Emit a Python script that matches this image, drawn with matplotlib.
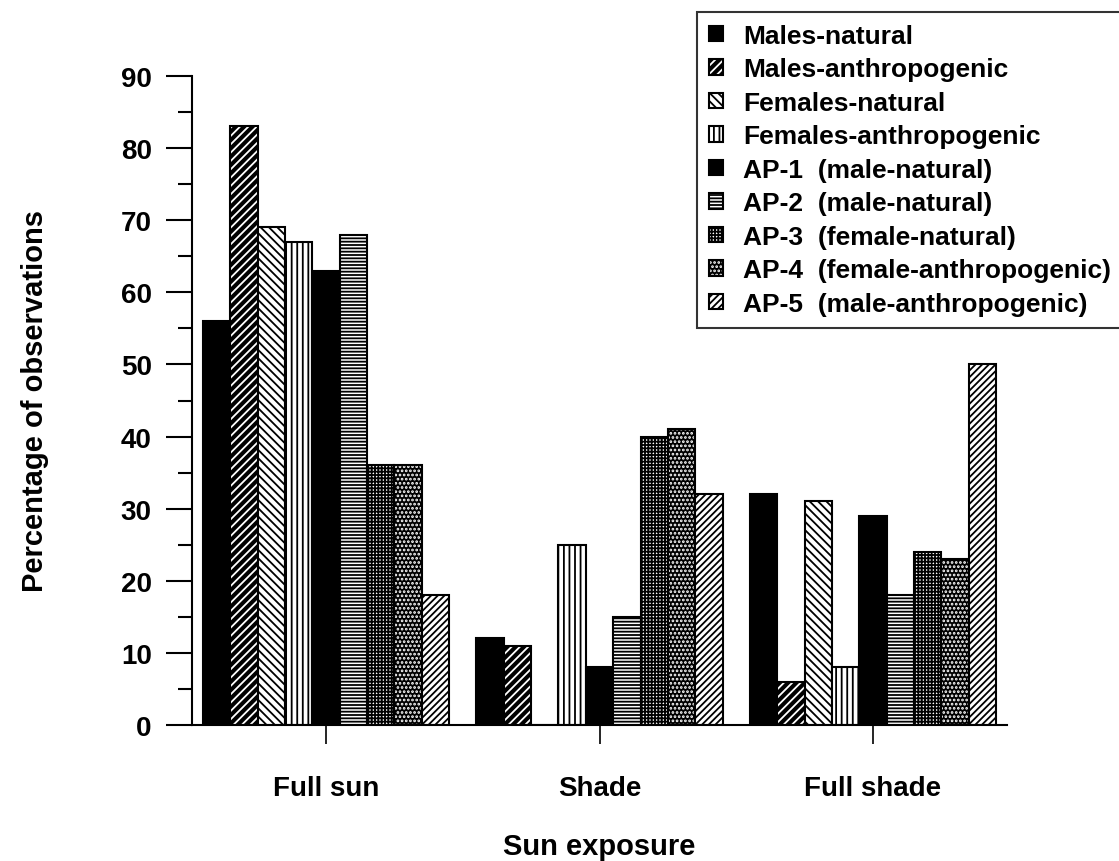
import matplotlib
matplotlib.use("Agg")
import matplotlib.pyplot as plt
import numpy as np

plt.rcParams['font.family'] = ['Liberation Sans', 'DejaVu Sans']
plt.rcParams['font.weight'] = 'bold'
plt.rcParams['hatch.linewidth'] = 1.3

# sun exposure categories
categories = ['Full sun', 'Shade', 'Full shade']

# legend labels, one per series
series = ['Males-natural', 'Males-anthropogenic', 'Females-natural',
          'Females-anthropogenic', 'AP-1  (male-natural)', 'AP-2  (male-natural)',
          'AP-3  (female-natural)', 'AP-4  (female-anthropogenic)',
          'AP-5  (male-anthropogenic)']

# percentage of observations (full sun, shade, full shade)
males_natural = [56, 12, 32]
males_anthro = [83, 11, 6]
females_natural = [69, 0, 31]
females_anthro = [67, 25, 8]
ap1 = [63, 8, 29]
ap2 = [68, 15, 18]
ap3 = [36, 40, 24]
ap4 = [36, 41, 23]
ap5 = [18, 32, 50]

values = [males_natural, males_anthro, females_natural, females_anthro,
          ap1, ap2, ap3, ap4, ap5]

# (face colour, hatch colour, hatch) for each series
styles = [('black', 'black', None),
          ('black', 'white', '////'),
          ('white', 'black', '\\\\\\\\'),
          ('white', 'black', '|||'),
          ('black', 'black', None),
          ('white', 'black', '-----'),
          ('white', 'black', '+++++'),
          ('black', 'white', '....'),
          ('white', 'black', '/////')]

fig = plt.figure(figsize=(11.19, 8.62), dpi=100)
ax = fig.add_axes([192/1119, 1-726/862, 815/1119, 649/862])

x = np.arange(len(categories))
w = 0.1
handles = []
for i, vals in enumerate(values):
    face, hcol, hatch = styles[i]
    off = (i - 4) * w
    b1 = ax.bar(x + off, vals, w, color=face, edgecolor=hcol, hatch=hatch, linewidth=0)
    b2 = ax.bar(x + off, vals, w, fill=False, edgecolor='black', linewidth=1.5)
    handles.append((b1.patches[0], b2.patches[0]))

ax.set_xlim(-0.49, 2.49)
ax.set_ylim(0, 90)
ax.set_yticks(np.arange(0, 91, 10))
ax.set_yticks(np.arange(5, 90, 10), minor=True)
ax.set_xticks(x)
ax.set_xticklabels(categories)

for s in ['top', 'right']:
    ax.spines[s].set_visible(False)
for s in ['left', 'bottom']:
    ax.spines[s].set_linewidth(1.5)

ax.tick_params(axis='y', which='major', length=19, width=1.5, pad=10, labelsize=20)
ax.tick_params(axis='y', which='minor', length=10, width=1.5)
ax.tick_params(axis='x', which='major', length=14, width=1.2, pad=22, labelsize=20)

ax.set_ylabel('Percentage of observations', fontsize=21, fontweight='bold')
ax.yaxis.set_label_coords(-0.176, 0.5)
ax.set_xlabel('Sun exposure', fontsize=21, fontweight='bold')
ax.xaxis.set_label_coords(0.5, -0.165)

leg = fig.legend(handles, series, loc='upper left',
                 bbox_to_anchor=(697/1119, 1-13/862), bbox_transform=fig.transFigure,
                 fontsize=19, frameon=True, fancybox=False, borderaxespad=0,
                 handlelength=0.55, handleheight=0.55, handletextpad=0.75,
                 labelspacing=0.36, borderpad=0.45)
leg.get_frame().set_edgecolor('black')
leg.get_frame().set_linewidth(1.5)

fig.savefig('out.png', dpi=100)
